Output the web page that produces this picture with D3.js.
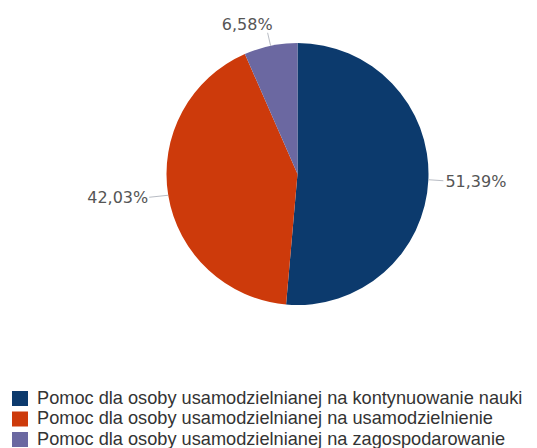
<!DOCTYPE html>
<html><head><meta charset="utf-8">
<script src="https://cdn.jsdelivr.net/npm/d3@7"></script>
<style>html,body{margin:0;padding:0;background:#fff;}svg{display:block;}</style>
</head><body>
<svg id="chart" width="537" height="448"></svg>
<script>
const categories = [
  "Pomoc dla osoby usamodzielnianej na kontynuowanie nauki",
  "Pomoc dla osoby usamodzielnianej na usamodzielnienie",
  "Pomoc dla osoby usamodzielnianej na zagospodarowanie"
];
const values = [51.39, 42.03, 6.58];
const valueLabels = ["51,39%", "42,03%", "6,58%"];
const colors = ["#0c3a6d", "#cd3a0b", "#6b68a1"];

const svg = d3.select("#chart");
const cx = 297.5, cy = 174, R = 131;

const pie = d3.pie().sort(null).value(d => d)(values);
const arc = d3.arc().innerRadius(0).outerRadius(R);

const g = svg.append("g").attr("transform", `translate(${cx},${cy})`);
g.selectAll("path.slice").data(pie).enter().append("path")
  .attr("class", "slice")
  .attr("d", arc)
  .attr("fill", (d, i) => colors[i]);

// labels with connectors
pie.forEach((d, i) => {
  const a = (d.startAngle + d.endAngle) / 2;
  const sx = Math.sin(a), cyc = -Math.cos(a);
  const p0 = [R * sx, R * cyc];
  const top = Math.abs(Math.cos(a)) > 0.9;
  let p1, tx, ty, anchor;
  if (top) {
    p1 = [p0[0] - 3, p0[1] - 13];
    tx = p1[0] + 5; ty = p1[1] - 3; anchor = "end";
  } else if (sx > 0) {
    p1 = [p0[0] + 15, p0[1] + 1];
    tx = p1[0] + 2; ty = p1[1] + 6; anchor = "start";
  } else {
    p1 = [p0[0] - 19, p0[1] + 2];
    tx = p1[0] - 1; ty = p1[1] + 6; anchor = "end";
  }
  g.append("path")
    .attr("d", d3.line()([p0, p1]))
    .attr("stroke", "#b8bcc4").attr("stroke-width", 1).attr("fill", "none");
  g.append("text")
    .attr("x", tx).attr("y", ty)
    .attr("text-anchor", anchor)
    .attr("font-family", "DejaVu Sans, sans-serif")
    .attr("font-size", 16)
    .attr("fill", "#555")
    .text(valueLabels[i]);
});

// legend
const legend = svg.append("g").attr("transform", "translate(12,391)");
const rowH = 20.5;
categories.forEach((c, i) => {
  const row = legend.append("g").attr("transform", `translate(0,${i * rowH})`);
  row.append("rect").attr("x", 0).attr("y", 0).attr("width", 16).attr("height", 15)
    .attr("fill", colors[i]);
  row.append("text").attr("x", 25).attr("y", 12.8)
    .attr("font-family", "Liberation Sans, Arial, sans-serif")
    .attr("font-size", 18.2)
    .attr("fill", "#333")
    .text(c);
});
</script>
</body></html>
